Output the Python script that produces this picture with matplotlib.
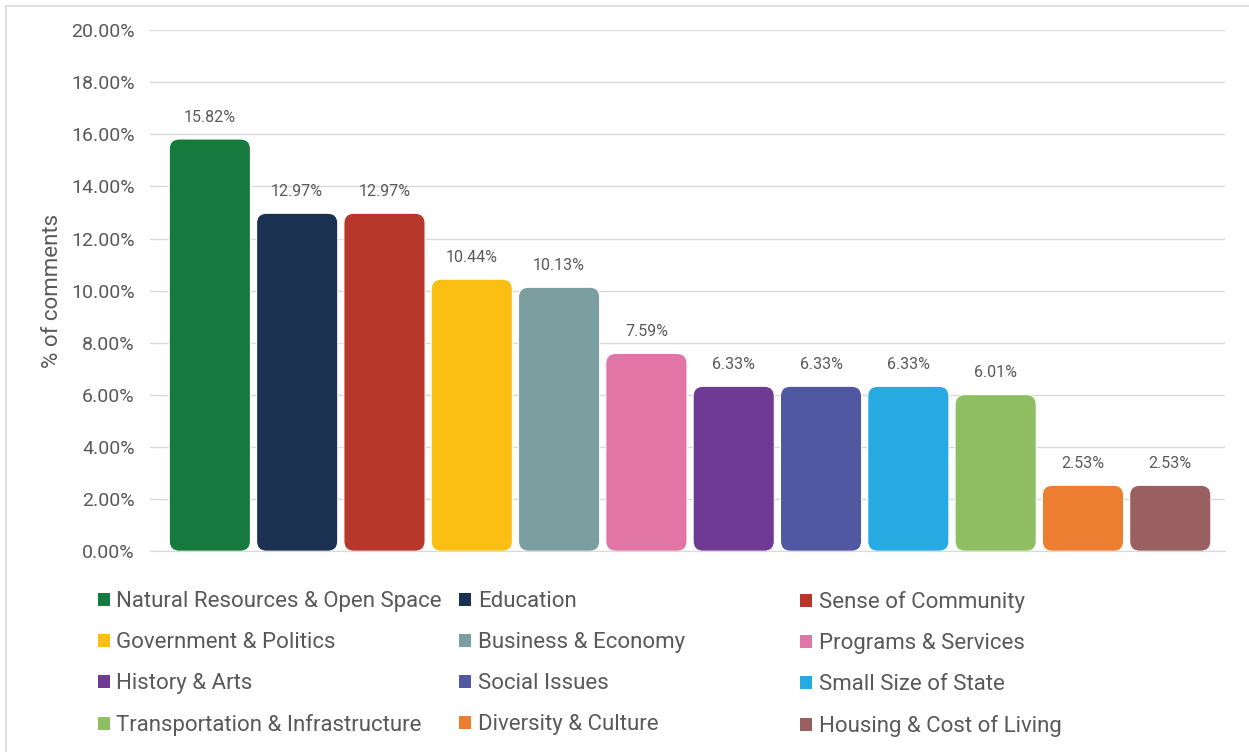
import matplotlib.pyplot as plt
from matplotlib.patches import FancyBboxPatch
from matplotlib.lines import Line2D
from matplotlib.patches import Patch
from matplotlib.ticker import FuncFormatter

plt.rcParams['font.family'] = ['Roboto', 'DejaVu Sans']

# share of comments per topic (%)
topics = ["Natural Resources & Open Space", "Education", "Sense of Community",
          "Government & Politics", "Business & Economy", "Programs & Services",
          "History & Arts", "Social Issues", "Small Size of State",
          "Transportation & Infrastructure", "Diversity & Culture",
          "Housing & Cost of Living"]
shares = [15.82, 12.97, 12.97, 10.44, 10.13, 7.59, 6.33, 6.33, 6.33, 6.01, 2.53, 2.53]
colors = ["#167a3e", "#1b3152", "#b8372b", "#fbbf14", "#7b9ea1", "#e075a6",
          "#6f3a94", "#5058a1", "#27a9e1", "#8fbe63", "#ec7d31", "#9a5f60"]

text_col = "#595959"

fig = plt.figure(figsize=(12.49, 7.52), dpi=100)
ax = fig.add_axes([0.120, 0.267, 0.861, 0.693])

bars = ax.bar(range(len(topics)), shares, width=0.93, color=colors)
ax.set_xlim(-0.687, len(topics) - 1 + 0.63)
ax.set_ylim(0, 20)

# swap the square bars for rounded ones
fig.canvas.draw()
px_x = ax.transData.transform((1, 0))[0] - ax.transData.transform((0, 0))[0]
px_y = ax.transData.transform((0, 1))[1] - ax.transData.transform((0, 0))[1]
radius = 10 / px_x
for b, c in zip(bars, colors):
    b.set_visible(False)
    rb = FancyBboxPatch((b.get_x(), b.get_y()), b.get_width(), b.get_height(),
                        boxstyle=f"round,pad=0,rounding_size={radius}",
                        mutation_aspect=px_x / px_y, fc=c, ec="white", lw=0.8,
                        zorder=3)
    ax.add_patch(rb)
    ax.text(b.get_x() + b.get_width() / 2, b.get_height() + 0.55,
            f"{b.get_height():.2f}%", ha="center", va="bottom",
            fontsize=11.5, color=text_col)

ax.set_yticks(range(0, 21, 2))
ax.yaxis.set_major_formatter(FuncFormatter(lambda v, p: f"{v:.2f}%"))
ax.tick_params(axis="y", length=0, pad=11, labelsize=14, labelcolor=text_col)
ax.set_xticks([])
ax.grid(axis="y", color="#d9d9d9", lw=1, zorder=0)
ax.set_axisbelow(True)
for s in ["top", "right", "left"]:
    ax.spines[s].set_visible(False)
ax.spines["bottom"].set_color("#d9d9d9")
ax.set_ylabel("% of comments", fontsize=16, color=text_col, labelpad=6)

# legend laid out in three equal columns, entries running across rows
col_x = [0.071, 0.3605, 0.6335]
for c in range(3):
    idx = list(range(c, len(topics), 3))
    handles = [Patch(fc=colors[i], ec="none") for i in idx]
    fig.legend(handles, [topics[i] for i in idx], loc="upper left",
               bbox_to_anchor=(col_x[c], 0.2255), frameon=False, fontsize=16,
               labelcolor=text_col, handlelength=0.55, handleheight=0.55,
               handletextpad=0.3, labelspacing=0.9, borderaxespad=0)

# thin frame along the top and left edges
fig.add_artist(Line2D([0.005, 1.0], [0.9925, 0.9925], color="#d9d9d9", lw=1.2,
                      transform=fig.transFigure))
fig.add_artist(Line2D([0.005, 0.005], [0.0, 0.9925], color="#d9d9d9", lw=1.2,
                      transform=fig.transFigure))

fig.savefig("out.png", dpi=100)
